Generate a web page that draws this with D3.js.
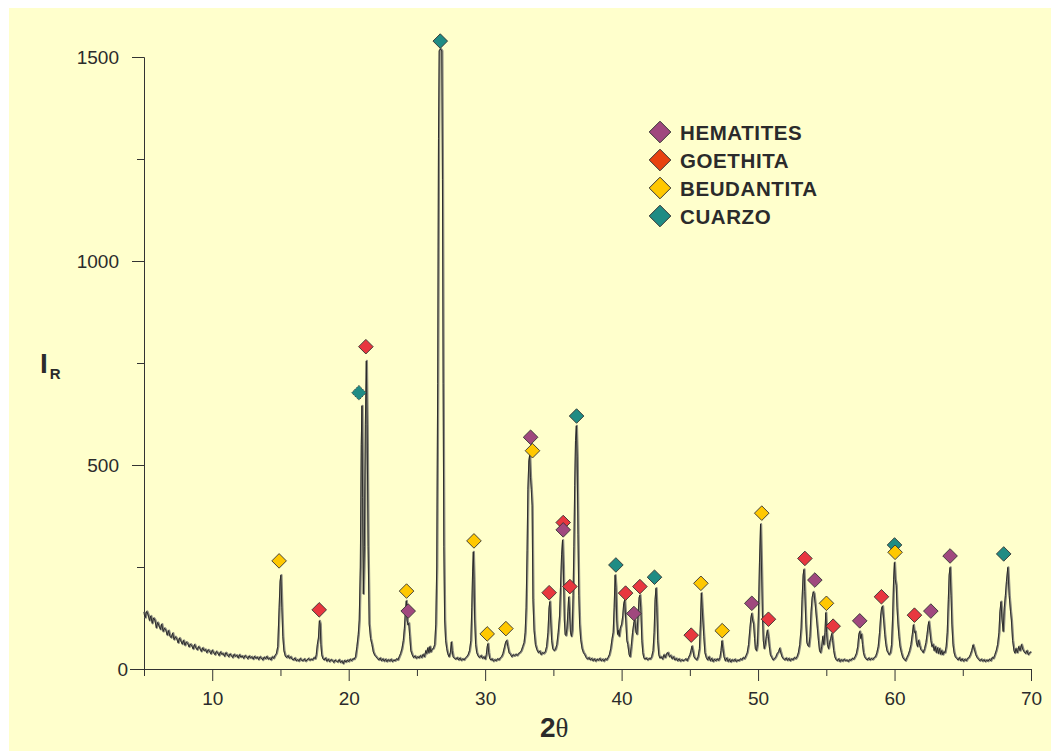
<!DOCTYPE html>
<html lang="es">
<head>
<meta charset="UTF-8">
<title>Difractograma de rayos X</title>
<style>
  body { margin: 0; background: #fff; }
  svg { display: block; }
  .axis path, .axis line { stroke: #333; stroke-width: 1; }
  .axis text { font: 19px "Liberation Sans", Arial, sans-serif; fill: #2b2b2b; }
  .legend text { font: bold 20.5px "Liberation Sans", Arial, sans-serif; fill: #2b2b2b; letter-spacing: 0.6px; }
</style>
</head>
<body>
<svg id="chart" width="1051" height="751"></svg>
<script src="https://d3js.org/d3.v7.min.js"></script>
<script>
// ---- data: [2theta, intensity] ----
const scan = [
  [5.0,140],[5.05,128],[5.1,126],[5.15,137],[5.2,141],[5.3,133],[5.4,119],[5.5,130],[5.6,112],[5.7,125],[5.8,120],[5.9,101],
  [6.0,114],[6.1,106],[6.2,97],[6.3,110],[6.4,92],[6.5,100],[6.6,95],[6.7,83],[6.8,94],[6.9,80],
  [7.0,77],[7.1,88],[7.2,72],[7.3,79],[7.4,74],[7.5,64],[7.6,76],[7.7,69],[7.8,61],[7.9,70],
  [8.0,58],[8.1,66],[8.2,63],[8.3,54],[8.4,61],[8.5,57],[8.6,49],[8.7,60],[8.8,52],[8.9,47],
  [9.0,55],[9.1,50],[9.2,43],[9.3,52],[9.4,45],[9.5,48],[9.6,40],[9.7,47],[9.8,44],[9.9,37],
  [10.0,46],[10.1,40],[10.2,35],[10.3,43],[10.4,39],[10.5,33],[10.6,42],[10.7,36],[10.8,38],[10.9,31],
  [11.0,40],[11.1,35],[11.2,30],[11.3,37],[11.4,33],[11.5,28],[11.6,36],[11.7,31],[11.8,34],[11.9,27],
  [12.0,35],[12.1,29],[12.2,32],[12.3,26],[12.4,33],[12.5,30],[12.6,25],[12.7,32],[12.8,27],[12.9,30],
  [13.0,24],[13.1,31],[13.2,26],[13.3,29],[13.4,23],[13.5,30],[13.6,27],[13.7,22],[13.8,29],[13.9,25],
  [14.0,31],[14.1,24],[14.2,27],[14.3,22],[14.4,30],[14.5,26],[14.6,33],[14.7,38],[14.8,55],[14.9,150],
  [14.97,215],[15.03,230],[15.1,150],[15.17,80],[15.25,45],[15.35,32],[15.45,28],[15.55,33],[15.65,26],[15.75,30],
  [15.85,24],[15.95,22],[16.05,27],[16.15,20],[16.25,23],[16.35,19],[16.45,26],[16.55,21],[16.65,20],[16.75,25],
  [16.85,19],[16.95,22],[17.05,26],[17.15,21],[17.25,24],[17.35,22],[17.45,28],[17.55,25],[17.62,35],[17.7,60],
  [17.78,76],[17.85,118],[17.91,110],[17.96,60],[18.02,35],[18.1,26],[18.2,22],[18.3,27],[18.4,19],[18.5,24],
  [18.6,18],[18.7,23],[18.8,21],[18.9,16],[19.0,22],[19.1,19],[19.2,17],[19.3,23],[19.4,16],[19.5,20],
  [19.6,13],[19.7,21],[19.8,17],[19.9,22],[20.0,18],[20.1,24],[20.2,20],[20.3,25],[20.4,24],[20.5,30],
  [20.6,55],[20.7,85],[20.77,120],[20.85,250],[20.92,550],[20.97,645],[21.02,420],[21.07,184],[21.15,300],[21.22,600],
  [21.29,755],[21.35,600],[21.42,300],[21.5,110],[21.6,75],[21.7,60],[21.8,42],[21.9,34],[22.0,30],[22.1,26],
  [22.2,22],[22.3,27],[22.4,20],[22.5,25],[22.6,19],[22.7,24],[22.8,18],[22.9,23],[23.0,19],[23.1,24],
  [23.2,18],[23.3,22],[23.4,20],[23.5,25],[23.6,22],[23.7,30],[23.8,38],[23.9,50],[24.0,70],[24.08,100],
  [24.15,140],[24.22,167],[24.28,120],[24.34,108],[24.4,112],[24.47,80],[24.55,45],[24.65,35],[24.75,28],[24.85,32],
  [24.95,26],[25.05,30],[25.15,27],[25.25,33],[25.35,28],[25.45,36],[25.55,30],[25.65,45],[25.72,38],[25.8,52],
  [25.88,40],[25.95,55],[26.02,42],[26.1,48],[26.2,50],[26.3,60],[26.38,110],[26.45,250],[26.52,700],[26.58,1300],
  [26.63,1515],[26.72,1520],[26.82,1515],[26.87,1200],[26.92,700],[26.97,300],[27.03,120],[27.1,70],[27.18,50],[27.25,38],
  [27.35,30],[27.45,40],[27.52,66],[27.58,45],[27.65,30],[27.75,26],[27.85,24],[27.95,28],[28.05,22],[28.15,27],
  [28.25,21],[28.35,25],[28.45,22],[28.55,27],[28.65,30],[28.75,35],[28.85,45],[28.95,70],[29.02,150],[29.08,240],
  [29.13,287],[29.18,220],[29.23,120],[29.3,60],[29.38,40],[29.48,32],[29.58,28],[29.7,33],[29.8,26],[29.9,30],
  [30.0,24],[30.08,35],[30.15,55],[30.2,62],[30.26,40],[30.33,26],[30.42,22],[30.5,25],[30.6,19],[30.7,23],
  [30.8,20],[30.9,25],[31.0,22],[31.1,27],[31.2,30],[31.3,38],[31.4,52],[31.5,66],[31.58,70],[31.66,55],
  [31.75,40],[31.85,36],[31.95,30],[32.05,35],[32.15,32],[32.25,36],[32.35,33],[32.45,38],[32.55,40],[32.65,45],
  [32.75,55],[32.85,65],[32.93,90],[33.0,150],[33.07,290],[33.13,440],[33.2,510],[33.26,524],[33.32,470],[33.38,440],
  [33.44,400],[33.5,170],[33.58,95],[33.68,60],[33.78,48],[33.9,40],[34.0,44],[34.1,35],[34.2,40],[34.3,38],
  [34.4,42],[34.5,55],[34.6,90],[34.68,150],[34.74,165],[34.8,120],[34.87,70],[34.95,50],[35.05,45],[35.15,48],
  [35.25,60],[35.35,90],[35.45,130],[35.52,200],[35.6,280],[35.67,316],[35.73,250],[35.8,120],[35.86,85],[35.92,82],
  [36.0,100],[36.06,140],[36.12,176],[36.18,140],[36.25,90],[36.32,80],[36.38,95],[36.44,180],[36.5,300],[36.56,450],
  [36.62,560],[36.68,596],[36.74,520],[36.8,330],[36.86,180],[36.92,110],[37.0,72],[37.1,50],[37.2,40],[37.3,35],
  [37.4,28],[37.5,24],[37.6,28],[37.7,22],[37.8,26],[37.9,20],[38.0,25],[38.1,19],[38.2,24],[38.3,21],
  [38.4,26],[38.5,20],[38.6,24],[38.7,19],[38.8,25],[38.9,22],[39.0,28],[39.1,35],[39.2,50],[39.3,75],
  [39.38,90],[39.45,150],[39.52,230],[39.58,200],[39.64,120],[39.7,85],[39.76,95],[39.82,80],[39.9,100],[40.0,110],
  [40.08,130],[40.15,160],[40.22,169],[40.3,120],[40.38,70],[40.45,60],[40.55,35],[40.62,30],[40.7,55],[40.8,90],
  [40.9,115],[40.97,120],[41.05,90],[41.12,85],[41.2,130],[41.28,175],[41.34,181],[41.4,150],[41.48,70],[41.55,40],
  [41.62,28],[41.7,24],[41.8,27],[41.9,22],[42.0,26],[42.1,24],[42.2,30],[42.3,45],[42.38,90],[42.45,170],
  [42.52,198],[42.58,150],[42.64,70],[42.72,35],[42.8,27],[42.9,30],[43.0,24],[43.1,35],[43.2,28],[43.3,38],
  [43.4,40],[43.5,30],[43.6,33],[43.7,25],[43.8,30],[43.9,22],[44.0,26],[44.1,20],[44.2,25],[44.3,19],
  [44.4,23],[44.5,20],[44.6,22],[44.7,25],[44.8,20],[44.9,28],[45.0,35],[45.08,45],[45.15,56],[45.22,45],
  [45.3,30],[45.4,25],[45.5,22],[45.6,30],[45.7,50],[45.77,110],[45.84,186],[45.9,150],[45.96,115],[46.02,80],
  [46.1,40],[46.2,28],[46.3,22],[46.4,30],[46.5,20],[46.6,26],[46.7,18],[46.8,24],[46.9,20],[47.0,25],
  [47.1,21],[47.2,28],[47.28,45],[47.35,69],[47.42,50],[47.5,30],[47.6,20],[47.7,27],[47.8,18],[47.9,24],
  [48.0,17],[48.1,23],[48.2,19],[48.3,24],[48.4,18],[48.5,22],[48.6,20],[48.7,25],[48.8,22],[48.9,28],
  [49.0,25],[49.1,32],[49.2,40],[49.3,60],[49.4,100],[49.47,125],[49.53,136],[49.6,120],[49.67,110],[49.74,75],
  [49.8,50],[49.88,45],[49.95,60],[50.02,130],[50.1,260],[50.18,355],[50.25,250],[50.32,130],[50.38,70],[50.45,50],
  [50.52,60],[50.6,80],[50.68,95],[50.75,80],[50.82,55],[50.9,35],[51.0,28],[51.1,22],[51.2,25],[51.3,30],
  [51.4,38],[51.5,42],[51.58,51],[51.66,40],[51.75,30],[51.85,25],[51.95,22],[52.05,27],[52.15,21],[52.25,26],
  [52.35,20],[52.45,25],[52.55,22],[52.65,28],[52.75,25],[52.85,30],[52.95,40],[53.05,60],[53.15,100],[53.22,170],
  [53.3,230],[53.36,244],[53.42,190],[53.5,110],[53.57,65],[53.64,58],[53.72,55],[53.8,80],[53.88,140],[53.96,175],
  [54.04,189],[54.1,185],[54.18,160],[54.26,130],[54.34,100],[54.42,70],[54.5,45],[54.58,40],[54.66,55],[54.74,80],
  [54.82,60],[54.9,90],[54.96,138],[55.02,90],[55.08,60],[55.16,50],[55.24,65],[55.32,75],[55.4,87],[55.46,70],
  [55.54,45],[55.62,30],[55.7,24],[55.8,20],[55.9,25],[56.0,18],[56.1,23],[56.2,19],[56.3,24],[56.4,20],
  [56.5,22],[56.6,18],[56.7,23],[56.8,21],[56.9,26],[57.0,24],[57.1,30],[57.2,38],[57.3,55],[57.38,85],
  [57.45,92],[57.52,75],[57.58,85],[57.65,60],[57.72,40],[57.8,30],[57.9,25],[58.0,22],[58.1,27],[58.2,22],
  [58.3,26],[58.4,23],[58.5,28],[58.6,30],[58.7,40],[58.8,55],[58.9,90],[58.98,130],[59.05,150],[59.12,154],
  [59.2,120],[59.28,85],[59.36,60],[59.44,45],[59.52,40],[59.6,35],[59.7,40],[59.78,60],[59.86,130],[59.93,220],
  [59.99,261],[60.05,220],[60.12,205],[60.18,150],[60.25,110],[60.32,80],[60.4,55],[60.5,40],[60.6,28],[60.7,24],
  [60.8,20],[60.9,28],[61.0,35],[61.1,45],[61.2,60],[61.3,85],[61.38,108],[61.45,90],[61.52,92],[61.6,65],
  [61.68,55],[61.76,70],[61.84,58],[61.92,48],[62.0,45],[62.1,40],[62.2,50],[62.3,65],[62.38,85],[62.45,105],
  [62.51,116],[62.58,95],[62.66,70],[62.74,55],[62.82,60],[62.9,45],[62.98,55],[63.06,40],[63.14,52],[63.22,38],
  [63.3,50],[63.38,36],[63.46,45],[63.54,35],[63.62,42],[63.7,40],[63.78,55],[63.86,90],[63.94,170],[64.0,230],
  [64.07,249],[64.14,180],[64.2,110],[64.28,60],[64.36,40],[64.45,30],[64.55,26],[64.65,22],[64.75,28],[64.85,20],
  [64.95,25],[65.05,19],[65.15,24],[65.25,20],[65.35,26],[65.45,28],[65.55,35],[65.65,45],[65.75,59],[65.85,48],
  [65.95,35],[66.05,28],[66.15,24],[66.25,20],[66.35,24],[66.45,19],[66.55,23],[66.65,18],[66.75,22],[66.85,19],
  [66.95,24],[67.05,20],[67.15,28],[67.25,26],[67.35,35],[67.45,45],[67.55,60],[67.65,90],[67.72,140],[67.8,165],
  [67.88,120],[67.96,92],[68.04,150],[68.12,180],[68.2,215],[68.3,249],[68.4,180],[68.5,140],[68.56,120],[68.65,70],
  [68.75,45],[68.82,39],[68.9,50],[69.0,40],[69.1,55],[69.2,45],[69.3,60],[69.4,48],[69.5,42],[69.6,38],
  [69.7,45],[69.8,35],[69.9,40],[70.0,42]
];

// phases (legend order) and their colours
const phases = ["HEMATITES", "GOETHITA", "BEUDANTITA", "CUARZO"];
const legendColors = ["#a0487e", "#e8420f", "#ffc800", "#1f8c84"];
const markerColors = ["#a0487e", "#e8373f", "#ffc800", "#1f8c84"];

// peak markers: [2theta, intensity, phase index]
const markers = [
  [14.9,265,2],[17.84,145,1],[20.75,677,3],[21.26,790,1],[24.24,191,2],[24.36,142,0],[26.71,1539,3],
  [29.18,314,2],[30.15,86,2],[31.52,99,2],[33.33,568,0],[33.47,535,2],[34.69,187,1],
  [35.72,359,1],[35.72,341,0],[36.21,202,1],[36.7,620,3],[39.58,255,3],[40.29,186,1],
  [40.9,136,0],[41.34,202,1],[42.41,225,3],[45.1,83,1],[45.81,210,2],[47.37,94,2],
  [49.54,161,0],[50.27,382,2],[50.76,122,1],[53.43,271,1],[54.16,218,0],[55.01,161,2],
  [55.5,105,1],[57.45,118,0],[59.04,177,1],[60.0,304,3],[60.04,286,2],[61.46,132,1],
  [62.66,142,0],[64.07,277,0],[68.0,282,3]
];

const yTicks = [0, 500, 1000, 1500];
const yMinorTicks = [250, 750, 1250];
const xTicks = [10, 20, 30, 40, 50, 60, 70];
const xMinorTicks = [5, 15, 25, 35, 45, 55, 65];

// ---- drawing ----
const svg = d3.select("#chart");
const x = d3.scaleLinear([5, 70], [144, 1031]);
const y = d3.scaleLinear([0, 1500], [669, 57]);

svg.append("rect")
  .attr("x", 9).attr("y", 8).attr("width", 1042).attr("height", 743)
  .attr("fill", "#ffffcc");

// minor ticks first, then the labelled axes on top
svg.append("g").attr("class", "axis")
  .attr("transform", "translate(144,0)")
  .call(d3.axisLeft(y).tickValues(yMinorTicks).tickSize(7).tickSizeOuter(0).tickFormat(""));
svg.append("g").attr("class", "axis")
  .attr("transform", "translate(0,669)")
  .call(d3.axisBottom(x).tickValues(xMinorTicks).tickSize(7).tickSizeOuter(0).tickFormat(""));

const yAxis = svg.append("g").attr("class", "axis")
  .attr("transform", "translate(144,0)")
  .call(d3.axisLeft(y).tickValues(yTicks).tickFormat(d3.format("d"))
    .tickSize(12).tickSizeOuter(0).tickPadding(13));
// zero tick is a bit longer and its label sits closer
yAxis.selectAll(".tick").filter(d => d === 0).select("line").attr("x2", -14);
yAxis.selectAll(".tick").filter(d => d === 0).select("text").attr("x", -16);

svg.append("g").attr("class", "axis")
  .attr("transform", "translate(0,669)")
  .call(d3.axisBottom(x).tickValues(xTicks).tickFormat(d3.format("d"))
    .tickSize(12).tickSizeOuter(0).tickPadding(10.5));

svg.selectAll(".axis .domain").attr("stroke", "#333");

// diffraction pattern: soft grey under a thin dark line
const line = d3.line().x(d => x(d[0])).y(d => y(d[1]));
svg.append("path").datum(scan)
  .attr("d", line).attr("fill", "none")
  .attr("stroke", "#8c8c80").attr("stroke-width", 2.2).attr("stroke-linejoin", "round")
  .attr("transform", "translate(0.6,0)");
svg.append("path").datum(scan)
  .attr("d", line).attr("fill", "none")
  .attr("stroke", "#222").attr("stroke-width", 0.9).attr("stroke-linejoin", "round");

const diamond = r => `M0,${-r}L${r},0L0,${r}L${-r},0Z`;

svg.append("g").selectAll("path")
  .data(markers)
  .join("path")
    .attr("d", diamond(7.3))
    .attr("transform", d => `translate(${x(d[0])},${y(d[1])})`)
    .attr("fill", d => markerColors[d[2]])
    .attr("stroke", "#333").attr("stroke-width", 0.9)
    .attr("stroke-dasharray", d => (d[2] === 3 && d[0] < 21) ? "1.5,1" : null);

// legend
const legend = svg.append("g").attr("class", "legend");
phases.forEach((p, i) => {
  legend.append("path")
    .attr("d", diamond(10.8))
    .attr("transform", `translate(660,${132 + i * 28})`)
    .attr("fill", legendColors[i]).attr("stroke", "#333").attr("stroke-width", 1);
  legend.append("text").attr("x", 680).attr("y", 140 + i * 28).text(p);
});

// axis titles
const yt = svg.append("text").attr("x", 40).attr("y", 373)
  .attr("fill", "#2b2b2b").style("font-family", "'Liberation Sans', Arial, sans-serif").style("font-weight", "bold");
yt.append("tspan").style("font-size", "28px").text("I");
yt.append("tspan").attr("dx", 2).attr("dy", 6).style("font-size", "15px").text("R");

const xt = svg.append("text").attr("x", 540).attr("y", 737).attr("fill", "#2b2b2b");
xt.append("tspan").style("font", "bold 28px 'Liberation Sans', Arial, sans-serif").text("2");
xt.append("tspan").style("font", "27px 'Liberation Serif', 'DejaVu Serif', serif").text("θ");
</script>
</body>
</html>
